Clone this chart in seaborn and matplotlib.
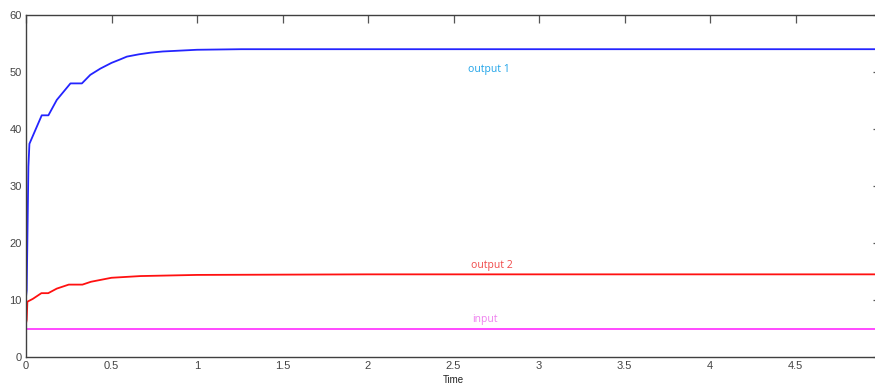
import numpy as np
import pandas as pd
import matplotlib
matplotlib.use("Agg")
import matplotlib.pyplot as plt
from matplotlib.ticker import FuncFormatter
import seaborn as sns

# ---- data ----
t_out1 = [0.0, 0.004, 0.014, 0.02, 0.092, 0.131, 0.18, 0.26, 0.327, 0.376, 0.435,
          0.5, 0.55, 0.59, 0.66, 0.73, 0.8, 0.867, 1.0, 1.26, 2.0, 3.0, 4.0, 5.0]
y_out1 = [10.5, 11.7, 33.4, 37.4, 42.4, 42.4, 45.1, 48.0, 48.0, 49.5, 50.6,
          51.6, 52.2, 52.7, 53.1, 53.4, 53.6, 53.7, 53.9, 54.0, 54.0, 54.0, 54.0, 54.0]

t_out2 = [0.0, 0.004, 0.008, 0.04, 0.09, 0.13, 0.18, 0.25, 0.33, 0.38,
          0.5, 0.67, 1.0, 2.0, 3.0, 4.0, 5.0]
y_out2 = [5.9, 6.5, 9.7, 10.2, 11.2, 11.2, 12.0, 12.7, 12.7, 13.2,
          13.9, 14.2, 14.4, 14.5, 14.5, 14.5, 14.5]

t_in = [0.0, 5.0]
y_in = [5.0, 5.0]

series_names = ["output 1", "output 2", "input"]
series_colors = ["#2424ff", "#ff1010", "#ff3cff"]
label_colors = ["#1fa3e8", "#f04848", "#ee80ee"]
label_x = [2.585, 2.60, 2.61]
label_y = [50.5, 16.1, 6.5]

x_ticks = [0, 0.5, 1, 1.5, 2, 2.5, 3, 3.5, 4, 4.5]
y_ticks = [0, 10, 20, 30, 40, 50, 60]

df = pd.concat([
    pd.DataFrame({"Time": t_out1, "value": y_out1, "series": series_names[0]}),
    pd.DataFrame({"Time": t_out2, "value": y_out2, "series": series_names[1]}),
    pd.DataFrame({"Time": t_in, "value": y_in, "series": series_names[2]}),
], ignore_index=True)

sns.set_style("white")
plt.rcParams["font.family"] = ["Liberation Sans", "DejaVu Sans"]

fig = plt.figure(figsize=(8.75, 3.90), dpi=100)
ax = fig.add_axes([26 / 875, 33 / 390, 855 / 875, 342 / 390])

sns.lineplot(data=df, x="Time", y="value", hue="series", hue_order=series_names,
             palette=series_colors, estimator=None, sort=False, linewidth=1.3,
             legend=False, ax=ax)

for name, c, lx, ly in zip(series_names, label_colors, label_x, label_y):
    ax.text(lx, ly, name, color=c, fontsize=7.5, family=["Open Sans", "DejaVu Sans"],
            ha="left", va="center")

ax.set_xlim(0, 5)
ax.set_ylim(0, 60)
ax.set_xticks(x_ticks)
ax.set_yticks(y_ticks)
ax.xaxis.set_major_formatter(FuncFormatter(lambda v, p: f"{v:g}"))
ax.yaxis.set_major_formatter(FuncFormatter(lambda v, p: f"{v:g}"))
ax.tick_params(axis="both", direction="in", length=6, width=0.9, color="#555555",
               labelsize=8, labelcolor="#444444", top=True, right=True, pad=3)
ax.set_xlabel("Time", fontsize=7, color="#222222", labelpad=3)
ax.set_ylabel("")
for s in ax.spines.values():
    s.set_color("#404040")
    s.set_linewidth(1.0)

fig.savefig("out.png", dpi=100)
